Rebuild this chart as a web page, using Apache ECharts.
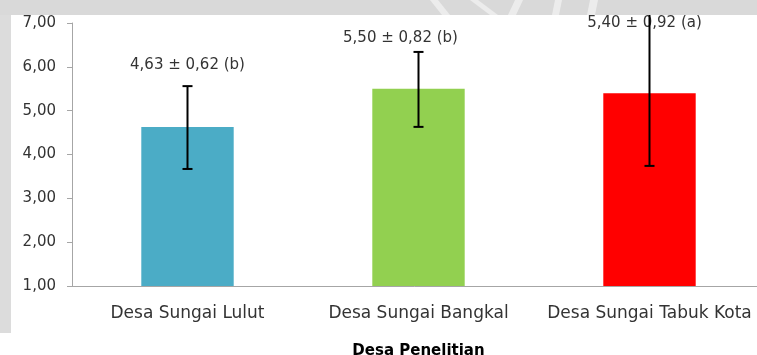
<!DOCTYPE html>
<html>
<head>
<meta charset="utf-8">
<script src="https://cdn.jsdelivr.net/npm/echarts@6/dist/echarts.min.js"></script>
<style>
  html, body { margin: 0; padding: 0; background: #ffffff; }
  #chart { width: 757px; height: 355px; }
</style>
</head>
<body>
<div id="chart"></div>
<script>
// Villages surveyed
const villages = ['Desa Sungai Lulut', 'Desa Sungai Bangkal', 'Desa Sungai Tabuk Kota'];
// Mean values, standard deviations and significance letters
const means = [4.63, 5.50, 5.40];
const stdDevs = [0.62, 0.82, 0.92];
const groups = ['b', 'b', 'a'];
// Error bar ends as plotted
const errLow = [3.67, 4.63, 3.74];
const errHigh = [5.56, 6.34, 7.30];
// Value axis ticks
const yTicks = [1, 2, 3, 4, 5, 6, 7];

const barColors = ['#4bacc6', '#92d050', '#ff0000'];
// Hand-placed label offsets [dx, dy] above each bar
const labelShift = [[0, -54], [-18, -43], [-5, -63]];

const fmt = v => v.toFixed(2).replace('.', ',');

const chart = echarts.init(document.getElementById('chart'), null, { renderer: 'canvas' });

const option = {
  animation: false,
  backgroundColor: '#ffffff',
  textStyle: { fontFamily: 'DejaVu Sans' },
  grid: { left: 72, right: -8, top: 23, bottom: 69, containLabel: false, outerBoundsMode: 'none' },
  xAxis: {
    type: 'category',
    data: villages,
    name: 'Desa Penelitian',
    nameLocation: 'middle',
    nameGap: 58,
    nameTextStyle: { fontFamily: 'DejaVu Sans', fontWeight: 'bold', fontSize: 15, color: '#000000' },
    axisLine: { lineStyle: { color: '#a6a6a6', width: 1 } },
    axisTick: { show: false },
    axisLabel: { interval: 0, fontFamily: 'DejaVu Sans', fontSize: 17, color: '#333333', margin: 19, hideOverlap: false }
  },
  yAxis: {
    type: 'value',
    min: yTicks[0],
    max: yTicks[yTicks.length - 1],
    interval: 1,
    axisLine: { show: true, lineStyle: { color: '#a6a6a6', width: 1 } },
    axisTick: { show: true, length: 5, lineStyle: { color: '#a6a6a6' } },
    splitLine: { show: false },
    axisLabel: { fontFamily: 'DejaVu Sans', fontSize: 15, color: '#333333', margin: 16, formatter: v => fmt(v) }
  },
  series: [
    {
      type: 'bar',
      barWidth: '40%',
      data: means.map((m, i) => ({
        value: m,
        itemStyle: { color: barColors[i] },
        label: { offset: labelShift[i] }
      })),
      label: {
        show: true,
        position: 'top',
        distance: 0,
        fontFamily: 'DejaVu Sans',
        fontSize: 15,
        color: '#333333',
        formatter: p => fmt(means[p.dataIndex]) + ' \u00b1 ' + fmt(stdDevs[p.dataIndex]) + ' (' + groups[p.dataIndex] + ')'
      },
      z: 2
    },
    {
      type: 'custom',
      clip: false,
      z: 5,
      data: villages.map((v, i) => [i, errLow[i], errHigh[i]]),
      renderItem: (params, api) => {
        const lo = api.coord([api.value(0), api.value(1)]);
        const hi = api.coord([api.value(0), api.value(2)]);
        const cap = 5;
        const style = { stroke: '#000000', lineWidth: 2 };
        return {
          type: 'group',
          children: [
            { type: 'line', shape: { x1: hi[0], y1: hi[1], x2: lo[0], y2: lo[1] }, style },
            { type: 'line', shape: { x1: hi[0] - cap, y1: hi[1], x2: hi[0] + cap, y2: hi[1] }, style },
            { type: 'line', shape: { x1: lo[0] - cap, y1: lo[1], x2: lo[0] + cap, y2: lo[1] }, style }
          ]
        };
      }
    }
  ],
  graphic: [
    // grey page border around the chart box
    { type: 'rect', z: 100, shape: { x: 0, y: 0, width: 757, height: 15 }, style: { fill: '#d9d9d9' } },
    { type: 'rect', z: 100, shape: { x: 0, y: 15, width: 11, height: 318 }, style: { fill: '#dcdcdc' } },
    // pale emblem shapes on the top band
    { type: 'polygon', z: 101, shape: { points: [[430, 0], [438, 0], [450, 15], [442, 15]] }, style: { fill: '#ececec' } },
    { type: 'polygon', z: 101, shape: { points: [[470, 0], [478, 0], [498, 15], [490, 15]] }, style: { fill: '#ececec' } },
    { type: 'polygon', z: 101, shape: { points: [[515, 0], [523, 0], [516, 15], [508, 15]] }, style: { fill: '#ececec' } },
    { type: 'polygon', z: 101, shape: { points: [[555, 0], [562, 0], [559, 15], [552, 15]] }, style: { fill: '#ececec' } },
    { type: 'polygon', z: 101, shape: { points: [[590, 0], [598, 0], [595, 15], [587, 15]] }, style: { fill: '#ececec' } }
  ]
};

chart.setOption(option);
</script>
</body>
</html>
